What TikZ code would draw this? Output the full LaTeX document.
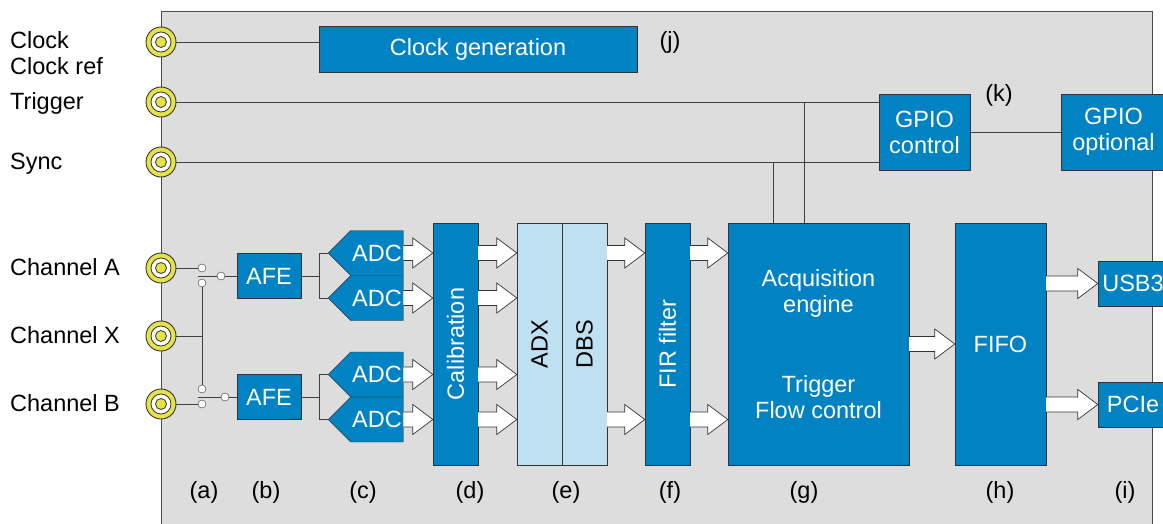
\documentclass[tikz,border=0pt]{standalone}
\usepackage{fontspec}
\setmainfont{Liberation Sans}
\usetikzlibrary{positioning}
\usetikzlibrary{calc}
\usetikzlibrary{shapes.symbols}
\tikzset{block/.style = {draw=black!80, fill=mblue, text=white, inner sep=0pt, align=center},
         lblock/.style = {block, fill=mlight, text=black},
         jack/.style = {circle, draw=black!80, line width=0.9pt, fill=myellow, minimum size=30pt, inner sep=0pt,
                        path picture={\draw [fill=white, line width=0.8pt] (path picture bounding box.center) circle (10pt);
                                      \draw [fill=myellow, line width=0.8pt] (path picture bounding box.center) circle (5.5pt);}},
         contact/.style = {circle, draw=black!80, fill=white, minimum size=8pt, inner sep=0pt},
         adc/.style = {block, shape=signal, signal to=west, signal pointer angle=90,
                       minimum width=75pt, minimum height=45pt},
         wire/.style = {draw=black!75, line width=0.9pt},
         side/.style = {anchor=base west, inner xsep=0pt}}
\definecolor{mblue}{RGB}{0,130,195}
\definecolor{mlight}{RGB}{190,224,240}
\definecolor{mgray}{RGB}{221,221,221}
\definecolor{myellow}{RGB}{230,226,72}
\newcommand{\bigarrow}[2]{\draw [draw=black!80, fill=white, line width=0.7pt]
  let \p1 = (#1), \p2 = (#2) in
  (\x1, \y1 + 7.5pt) -- (\x2 - 20pt, \y1 + 7.5pt) -- (\x2 - 20pt, \y1 + 15pt) -- (\x2, \y1)
  -- (\x2 - 20pt, \y1 - 15pt) -- (\x2 - 20pt, \y1 - 7.5pt) -- (\x1, \y1 - 7.5pt);}

\begin{document}
\begin{tikzpicture}[x=1pt, y=-1pt, font=\fontsize{23.5}{26}\selectfont]
    \useasboundingbox (0, 0) rectangle (1163, 523);
    \fill [mgray] (161, 11) rectangle (1152, 530);
    \draw [black!70, line width=0.9pt] (161, 530) -- (161, 11) -- (1152, 11) -- (1152, 530);

    \node [side] (clkL) at (10, 48) {Clock};
    \node [side] (clkrefL) at (10, 74) {Clock ref};
    \node [side] (trigL) at (10, 109) {Trigger};
    \node [side] (syncL) at (10, 169) {Sync};
    \node [side] (chAL) at (10, 275) {Channel A};
    \node [side] (chXL) at (10, 343) {Channel X};
    \node [side] (chBL) at (10, 411) {Channel B};

    \node [block, minimum width=318pt, minimum height=46pt] (clkgen) at (478, 49) {Clock generation};
    \node [block, minimum width=91pt, minimum height=76pt] (gpioc) at (924.5, 132) {GPIO\\control};
    \node [block, minimum width=105pt, minimum height=76pt] (gpioo) at (1113.5, 132) {GPIO\\optional};
    \node [block, minimum width=64pt, minimum height=45pt] (afeA) at (269, 276) {AFE};
    \node [block, minimum width=64pt, minimum height=45pt] (afeB) at (269, 397) {AFE};
    \node [adc] (adcA1) at (377, 253) {ADC};
    \node [adc] (adcA2) at (377, 298) {ADC};
    \node [adc] (adcB1) at (377, 374.5) {ADC};
    \node [adc] (adcB2) at (377, 419.5) {ADC};
    \node [block, minimum width=45pt, minimum height=242pt] (calib) at (455.5, 344) {};
    \node [lblock, minimum width=45pt, minimum height=242pt] (adx) at (539.5, 344) {};
    \node [lblock, minimum width=45pt, minimum height=242pt] (dbs) at (584.5, 344) {};
    \node [block, minimum width=45pt, minimum height=242pt] (fir) at (667.5, 344) {};
    \node [block, minimum width=181pt, minimum height=242pt] (acq) at (818.5, 344) {};
    \node [block, minimum width=91pt, minimum height=242pt] (fifo) at (1000.5, 344) {FIFO};
    \node [block, minimum width=70pt, minimum height=45pt] (usb) at (1133, 283.5) {USB3};
    \node [block, minimum width=70pt, minimum height=45pt] (pcie) at (1133, 404.5) {PCIe};

    \node [rotate=90, white] (calibT) at (calib) {Calibration};
    \node [rotate=90] (adxT) at (adx) {ADX};
    \node [rotate=90] (dbsT) at (dbs) {DBS};
    \node [rotate=90, white] (firT) at (fir) {FIR filter};
    \node [white, align=center] (acqT1) at (818.5, 293) {Acquisition\\engine};
    \node [white, align=center] (acqT2) at (818.5, 397) {Trigger\\Flow control};

    \node [jack] (clk) at (161, 42) {};
    \node [jack] (trig) at (161, 102) {};
    \node [jack] (sync) at (161, 162) {};
    \node [jack] (chA) at (161, 268) {};
    \node [jack] (chX) at (161, 336) {};
    \node [jack] (chB) at (161, 404) {};

    \node [contact] (swA1) at (202, 268) {};
    \node [contact] (swA2) at (202, 283) {};
    \node [contact] (swAc) at (221, 276) {};
    \node [contact] (swB1) at (202, 389) {};
    \node [contact] (swB2) at (202, 404) {};
    \node [contact] (swBc) at (225, 397) {};

    \draw [wire] (clk) -- (clk -| clkgen.west);
    \draw [wire] (trig) -- (trig -| gpioc.west);
    \draw [wire] (sync) -- (sync -| gpioc.west);
    \draw [wire] (gpioc) -- (gpioo);
    \coordinate (acqS) at ([xshift=-45.5pt]acq.north);
    \coordinate (acqG) at ([xshift=-14.5pt]acq.north);
    \draw [wire] (acqS) -- (acqS |- sync);
    \draw [wire] (acqG) -- (acqG |- trig);

    \draw [wire] (chA) -- (swA1);
    \draw [wire] (chB) -- (swB2);
    \draw [wire] (chX) -- (chX -| swA2);
    \draw [wire] (swA2) -- (swB1);
    \draw [wire] (swAc.west) -- (swAc.west -| swA1.west);
    \draw [wire] (swBc.west) -- (swBc.west -| swB1.west);
    \draw [wire] (swAc) -- (afeA);
    \draw [wire] (swBc) -- (afeB);

    \coordinate (splitA) at ([xshift=18pt]afeA.east);
    \coordinate (splitB) at ([xshift=18pt]afeB.east);
    \draw [wire] (afeA) -- (splitA);
    \draw [wire] (adcA1.west) -| (splitA) |- (adcA2.west);
    \draw [wire] (afeB) -- (splitB);
    \draw [wire] (adcB1.west) -| (splitB) |- (adcB2.west);

    \bigarrow{adcA1.east}{calib.west}
    \bigarrow{adcA2.east}{calib.west}
    \bigarrow{adcB1.east}{calib.west}
    \bigarrow{adcB2.east}{calib.west}
    \bigarrow{adcA1.east -| calib.east}{adx.west}
    \bigarrow{adcA2.east -| calib.east}{adx.west}
    \bigarrow{adcB1.east -| calib.east}{adx.west}
    \bigarrow{adcB2.east -| calib.east}{adx.west}
    \bigarrow{adcA1.east -| dbs.east}{fir.west}
    \bigarrow{adcB2.east -| dbs.east}{fir.west}
    \bigarrow{adcA1.east -| fir.east}{acq.west}
    \bigarrow{adcB2.east -| fir.east}{acq.west}
    \bigarrow{acq.east}{fifo.west}
    \bigarrow{usb.west -| fifo.east}{usb.west}
    \bigarrow{pcie.west -| fifo.east}{pcie.west}

    \node [anchor=base] (labA) at (204, 498) {(a)};
    \node [anchor=base] (labB) at (266, 498) {(b)};
    \node [anchor=base] (labC) at (363, 498) {(c)};
    \node [anchor=base] (labD) at (470, 498) {(d)};
    \node [anchor=base] (labE) at (566, 498) {(e)};
    \node [anchor=base] (labF) at (670, 498) {(f)};
    \node [anchor=base] (labG) at (804, 498) {(g)};
    \node [anchor=base] (labH) at (1000, 498) {(h)};
    \node [anchor=base] (labI) at (1125, 498) {(i)};
    \node [anchor=base] (labJ) at (670, 48) {(j)};
    \node [anchor=base] (labK) at (999, 101) {(k)};
\end{tikzpicture}
\end{document}
